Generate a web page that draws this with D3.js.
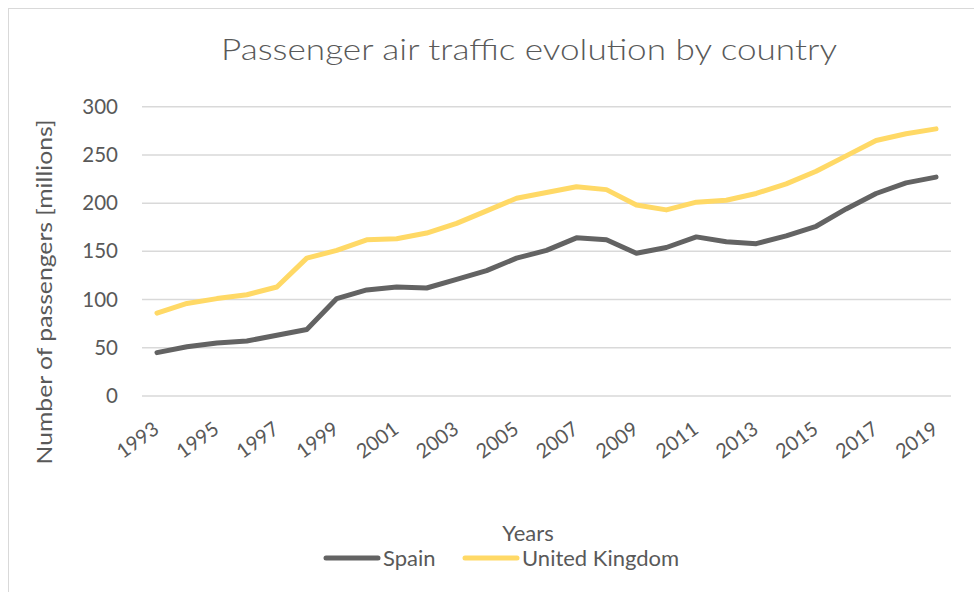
<!DOCTYPE html>
<html>
<head>
<meta charset="utf-8">
<script src="https://cdn.jsdelivr.net/npm/d3@7"></script>
<style>
  html, body { margin: 0; padding: 0; background: #fff; }
  svg { display: block; }
  text { font-family: Lato, "Open Sans", sans-serif; fill: #595959; }
</style>
</head>
<body>
<svg id="chart" width="974" height="592"></svg>
<script>
// Passenger air traffic, millions of passengers per year
const years = d3.range(1993, 2020);
const spain = [45, 51, 55, 57, 63, 69, 101, 110, 113, 112, 121, 130, 143, 151,
               164, 162, 148, 154, 165, 160, 158, 166, 176, 194, 210, 221, 227];
const unitedKingdom = [86, 96, 101, 105, 113, 143, 151, 162, 163, 169, 179, 192, 205, 211,
                       217, 214, 198, 193, 201, 203, 210, 220, 233, 249, 265, 272, 277];
const yTicks = [0, 50, 100, 150, 200, 250, 300];
const xTickYears = years.filter(y => (y - 1993) % 2 === 0);

const series = [
  { name: "Spain", values: spain, color: "#636363" },
  { name: "United Kingdom", values: unitedKingdom, color: "#FFD966" }
];

const svg = d3.select("#chart");

// outer frame
svg.append("rect")
  .attr("x", 8.5).attr("y", 8.5)
  .attr("width", 1000).attr("height", 1000)
  .attr("fill", "none").attr("stroke", "#d9d9d9").attr("stroke-width", 1);

const plot = { left: 142, right: 951, top: 106.7, bottom: 396 };

const x = d3.scalePoint().domain(years).range([plot.left, plot.right]).padding(0.5);
const y = d3.scaleLinear().domain([0, 300]).range([plot.bottom, plot.top]);

// title
svg.append("text")
  .attr("x", 529).attr("y", 60)
  .attr("text-anchor", "middle")
  .attr("font-size", 29).attr("font-weight", 300)
  .attr("textLength", 616).attr("lengthAdjust", "spacingAndGlyphs")
  .text("Passenger air traffic evolution by country");

// horizontal gridlines
svg.append("g").selectAll("line").data(yTicks).join("line")
  .attr("x1", plot.left).attr("x2", plot.right)
  .attr("y1", d => y(d)).attr("y2", d => y(d))
  .attr("stroke", "#d9d9d9").attr("stroke-width", 1.5);

// y axis labels
const yAxis = svg.append("g")
  .attr("transform", `translate(${plot.left},0)`)
  .call(d3.axisLeft(y).tickValues(yTicks).tickSize(0).tickPadding(24));
yAxis.select(".domain").remove();
yAxis.selectAll("text")
  .attr("font-size", 20.5)
  .attr("font-family", "Lato, sans-serif")
  .attr("fill", "#595959");

// x axis labels (every other year, rotated)
const xAxis = svg.append("g")
  .attr("transform", `translate(0,${plot.bottom})`)
  .call(d3.axisBottom(x).tickValues(xTickYears).tickSize(0).tickFormat(d3.format("d")));
xAxis.select(".domain").remove();
xAxis.selectAll("text")
  .attr("font-size", 20)
  .attr("font-family", "Lato, sans-serif")
  .attr("fill", "#595959")
  .attr("text-anchor", "end")
  .attr("dy", 0)
  .attr("y", 0)
  .attr("transform", "translate(3,36) rotate(-36)");

// y axis title
svg.append("text")
  .attr("transform", "translate(52,292) rotate(-90)")
  .attr("text-anchor", "middle")
  .attr("font-size", 22)
  .attr("textLength", 345).attr("lengthAdjust", "spacingAndGlyphs")
  .text("Number of passengers [millions]");

// x axis title
svg.append("text")
  .attr("x", 528).attr("y", 541)
  .attr("text-anchor", "middle")
  .attr("font-size", 22)
  .text("Years");

// series lines
const line = d3.line()
  .x((d, i) => x(years[i]))
  .y(d => y(d));

svg.append("g").selectAll("path").data(series).join("path")
  .attr("d", d => line(d.values))
  .attr("fill", "none")
  .attr("stroke", d => d.color)
  .attr("stroke-width", 5)
  .attr("stroke-linecap", "round")
  .attr("stroke-linejoin", "round");

// legend
const legendItems = [
  { s: series[0], x: 326 },
  { s: series[1], x: 465 }
];
const lg = svg.append("g").selectAll("g").data(legendItems).join("g")
  .attr("transform", d => `translate(${d.x},558)`);
lg.append("line")
  .attr("x1", 0).attr("x2", 52)
  .attr("stroke", d => d.s.color).attr("stroke-width", 5)
  .attr("stroke-linecap", "round");
lg.append("text")
  .attr("x", 57).attr("y", 7.5)
  .attr("font-size", 22)
  .text(d => d.s.name);
</script>
</body>
</html>
